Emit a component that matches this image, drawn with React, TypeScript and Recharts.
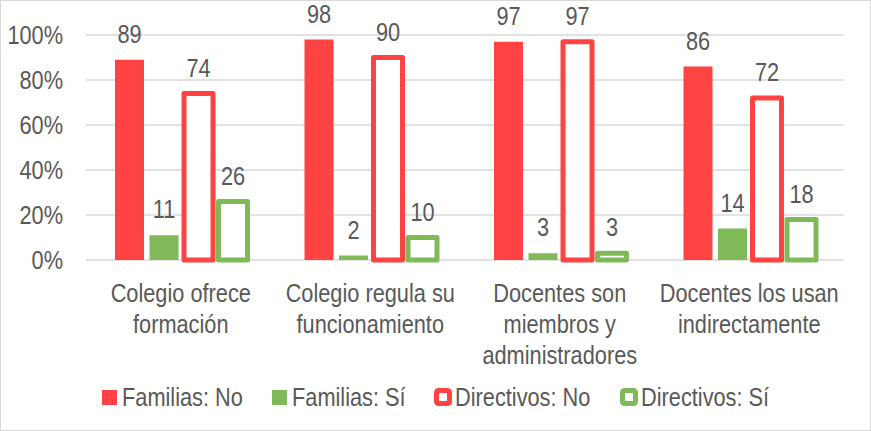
import React from "react";
import { BarChart, Bar, XAxis, YAxis, CartesianGrid, LabelList, Legend } from "recharts";

const categories = [
  "Colegio ofrece\nformación",
  "Colegio regula su\nfuncionamiento",
  "Docentes son\nmiembros y\nadministradores",
  "Docentes los usan\nindirectamente",
];
const familiasNo = [89, 98, 97, 86];
const familiasSi = [11, 2, 3, 14];
const directivosNo = [74, 90, 97, 72];
const directivosSi = [26, 10, 3, 18];
const yTicks = [0, 20, 40, 60, 80, 100];
const seriesNames = ["Familias: No", "Familias: Sí", "Directivos: No", "Directivos: Sí"];

const data = categories.map((c, i) => ({
  cat: c,
  fNo: familiasNo[i],
  fSi: familiasSi[i],
  dNo: directivosNo[i],
  dSi: directivosSi[i],
}));

const RED = "#FF4343";
const GREEN = "#80BA58";
const TEXT = "#595959";
const FONT = '"Liberation Sans", Arial, sans-serif';
const FS = 25;
const SX = 0.87;

const XTick = (props: any) => {
  const { x, y, payload } = props;
  const lines = String(payload.value).split("\n");
  return (
    <g transform={`translate(${x},${y + 42}) scale(${SX},1)`}>
      <text x={0} y={0} textAnchor="middle" fill={TEXT} fontSize={FS} fontFamily={FONT}>
        {lines.map((l, i) => (
          <tspan key={i} x={0} dy={i === 0 ? 0 : 31}>
            {l}
          </tspan>
        ))}
      </text>
    </g>
  );
};

const YTick = (props: any) => {
  const { x, y, payload } = props;
  return (
    <g transform={`translate(${x},${y}) scale(${SX},1)`}>
      <text x={0} y={0} dy="0.355em" textAnchor="end" fill={TEXT} fontSize={FS} fontFamily={FONT}>
        {`${payload.value}%`}
      </text>
    </g>
  );
};

const ValueLabel = (props: any) => {
  const { x, y, width, value } = props;
  return (
    <g transform={`translate(${Number(x) + Number(width) / 2},${Number(y) - 17}) scale(${SX},1)`}>
      <text x={0} y={0} textAnchor="middle" fill={TEXT} fontSize={FS} fontFamily={FONT}>
        {value}
      </text>
    </g>
  );
};

let measureCtx: CanvasRenderingContext2D | null = null;
const measure = (s: string) => {
  if (!measureCtx) measureCtx = document.createElement("canvas").getContext("2d");
  if (!measureCtx) return s.length * FS * 0.5;
  measureCtx.font = `${FS}px ${FONT}`;
  return measureCtx.measureText(s).width;
};

const Swatch = ({ color, outline }: { color: string; outline: boolean }) =>
  outline ? (
    <svg width={18} height={18} style={{ display: "block" }}>
      <rect x={2.5} y={2.5} width={13} height={13} rx={2} fill="#fff" stroke={color} strokeWidth={5} />
    </svg>
  ) : (
    <svg width={15} height={15} style={{ display: "block" }}>
      <rect x={0} y={0} width={15} height={15} fill={color} />
    </svg>
  );

const legendColors = [RED, GREEN, RED, GREEN];
const legendOutline = [false, false, true, true];

const LegendContent = () => (
  <div
    style={{
      display: "flex",
      justifyContent: "center",
      alignItems: "center",
      gap: 29,
      height: 40,
      fontFamily: FONT,
      fontSize: FS,
      color: TEXT,
    }}
  >
    {seriesNames.map((n, i) => {
      const w = measure(n) * SX;
      return (
        <div key={n} style={{ display: "flex", alignItems: "center" }}>
          <Swatch color={legendColors[i]} outline={legendOutline[i]} />
          <div style={{ marginLeft: legendOutline[i] ? 3 : 5, width: w, height: 40, position: "relative" }}>
            <span
              style={{
                position: "absolute",
                left: 0,
                top: 0,
                lineHeight: "40px",
                whiteSpace: "nowrap",
                transform: `scaleX(${SX})`,
                transformOrigin: "0 0",
              }}
            >
              {n}
            </span>
          </div>
        </div>
      );
    })}
  </div>
);

export default function App() {
  return (
    <div
      style={{
        position: "fixed",
        left: 0,
        top: 0,
        width: 871,
        height: 431,
        background: "#fff",
        boxSizing: "border-box",
        border: "1px solid #D9D9D9",
      }}
    >
      <div style={{ position: "absolute", left: -1, top: -1 }}>
        <BarChart
          width={871}
          height={431}
          data={data}
          margin={{ top: 35, right: 27, bottom: 0, left: 0 }}
          barSize={29}
          barGap={5.5}
        >
          <CartesianGrid vertical={false} stroke="#D9D9D9" strokeWidth={1.5} />
          <XAxis
            dataKey="cat"
            height={131}
            axisLine={false}
            tickLine={false}
            tickSize={0}
            tickMargin={0}
            interval={0}
            tick={<XTick />}
          />
          <YAxis
            width={86}
            domain={[0, 100]}
            ticks={yTicks}
            axisLine={false}
            tickLine={false}
            tickSize={0}
            tickMargin={23}
            tick={<YTick />}
          />
          <Legend
            verticalAlign="bottom"
            content={<LegendContent />}
            wrapperStyle={{ left: 0, width: 871, height: 40, top: 377 }}
          />
          <Bar dataKey="fNo" name={seriesNames[0]} fill={RED} isAnimationActive={false}>
            <LabelList dataKey="fNo" content={<ValueLabel />} />
          </Bar>
          <Bar dataKey="fSi" name={seriesNames[1]} fill={GREEN} isAnimationActive={false}>
            <LabelList dataKey="fSi" content={<ValueLabel />} />
          </Bar>
          <Bar
            dataKey="dNo"
            name={seriesNames[2]}
            fill="#fff"
            stroke={RED}
            strokeWidth={5}
            strokeLinejoin="round"
            isAnimationActive={false}
          >
            <LabelList dataKey="dNo" content={<ValueLabel />} />
          </Bar>
          <Bar
            dataKey="dSi"
            name={seriesNames[3]}
            fill="#fff"
            stroke={GREEN}
            strokeWidth={5}
            strokeLinejoin="round"
            isAnimationActive={false}
          >
            <LabelList dataKey="dSi" content={<ValueLabel />} />
          </Bar>
        </BarChart>
      </div>
    </div>
  );
}
